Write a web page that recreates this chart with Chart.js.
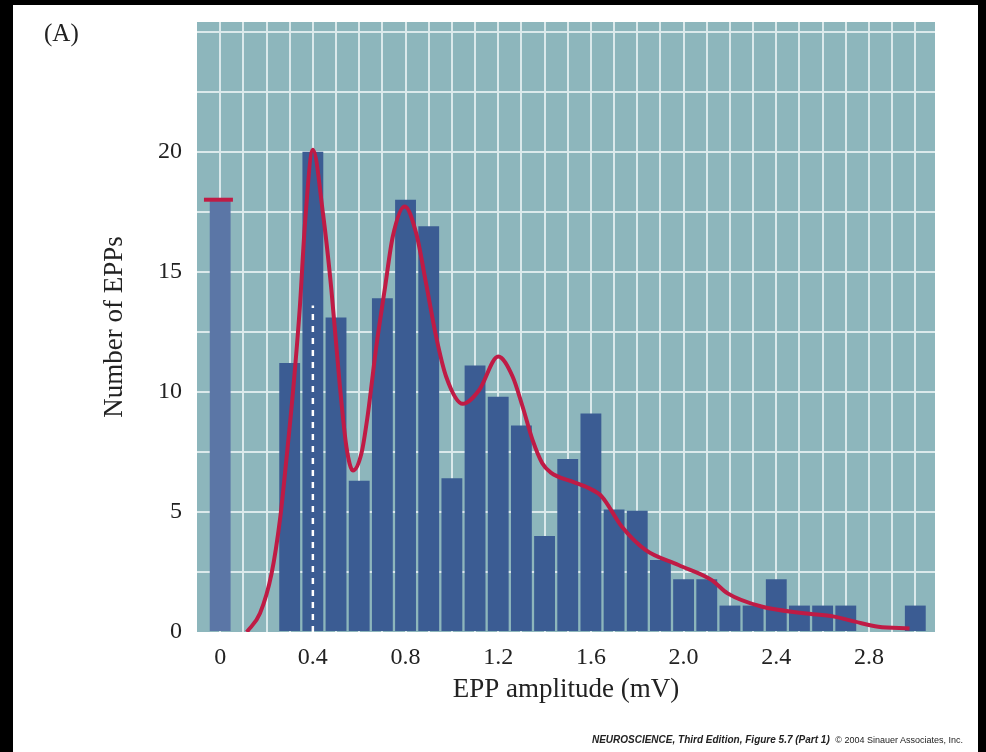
<!DOCTYPE html>
<html>
<head>
<meta charset="utf-8">
<script src="https://cdn.jsdelivr.net/npm/chart.js@4.4.1/dist/chart.umd.min.js"></script>
<style>
  html, body { margin: 0; padding: 0; background: #000; }
  #page {
    position: absolute; left: 13px; top: 5px;
    width: 965px; height: 747px; background: #fff;
  }
  #chart { position: absolute; left: 0; top: 0; }
  #panel {
    position: absolute; left: 31px; top: 14px;
    font: 25px "Liberation Serif", serif; color: #222;
  }
  #credit {
    position: absolute; right: 15px; top: 729px;
    font: 10px "Liberation Sans", Arial, sans-serif; color: #222;
    white-space: nowrap;
  }
  #credit b { font-style: italic; }
</style>
</head>
<body>
<div id="page">
  <canvas id="chart" width="965" height="747"></canvas>
  <div id="panel">(A)</div>
  <div id="credit"><b>NEUROSCIENCE, Third Edition, Figure 5.7 (Part 1)</b>&nbsp; <span style="font-size:9px">© 2004 Sinauer Associates, Inc.</span></div>
</div>
<script>
// histogram bins (mV) and counts
const binCenters = [0, 0.3, 0.4, 0.5, 0.6, 0.7, 0.8, 0.9, 1.0, 1.1, 1.2, 1.3, 1.4, 1.5,
                    1.6, 1.7, 1.8, 1.9, 2.0, 2.1, 2.2, 2.3, 2.4, 2.5, 2.6, 2.7, 3.0];
const counts = [18, 11.2, 20, 13.1, 6.3, 13.9, 18, 16.9, 6.4, 11.1, 9.8, 8.6, 4.0, 7.2,
                9.1, 5.1, 5.05, 3.0, 2.2, 2.2, 1.1, 1.1, 2.2, 1.1, 1.1, 1.1, 1.1];

// fitted curve
const curveX = [0.115, 0.172, 0.222, 0.258, 0.287, 0.315, 0.344, 0.366, 0.40, 0.444, 0.48,
                0.516, 0.545, 0.573, 0.61, 0.635, 0.674, 0.71, 0.745, 0.796, 0.846, 0.889,
                0.932, 0.975, 1.047, 1.118, 1.2, 1.262, 1.305, 1.348, 1.39, 1.427, 1.52,
                1.591, 1.647, 1.733, 1.835, 1.978, 2.12, 2.19, 2.336, 2.52, 2.65, 2.74,
                2.84, 2.975];
const curveY = [0, 0.78, 2.44, 4.67, 7.3, 10.08, 13.55, 17.0, 20.08, 17.4, 14.25,
                10.3, 7.7, 6.72, 7.45, 8.9, 11.9, 14.25, 16.47, 17.72, 16.6, 14.5,
                12.3, 10.64, 9.5, 10.08, 11.47, 10.64, 9.39, 8.0, 7.03, 6.64, 6.26,
                5.99, 5.64, 4.39, 3.42, 2.79, 2.17, 1.61, 1.06, 0.78, 0.64, 0.43,
                0.22, 0.15];

// quantal size marker (dashed) and failures level (cap on the zero bar)
const quantalX = [0.4, 0.4];
const quantalY = [0, 13.6];
const failX = [-0.07, 0.055];
const failY = [18, 18];

const xTickLabels = ['0', '0.4', '0.8', '1.2', '1.6', '2.0', '2.4', '2.8'];
const yTickLabels = ['0', '5', '10', '15', '20'];

const teal = '#8db6bc';
const gridColor = '#dbe9eb';
const barBlue = '#3b5c93';
const zeroBlue = '#5b76a6';
const red = '#bf1b45';

const pts = (xs, ys) => xs.map((x, i) => ({ x: x, y: ys[i] }));

const plotBg = {
    id: 'plotBg',
    beforeDraw(chart) {
        const a = chart.chartArea;
        chart.ctx.save();
        chart.ctx.fillStyle = teal;
        chart.ctx.fillRect(a.left, a.top, a.right - a.left, a.bottom - a.top);
        chart.ctx.restore();
    }
};

const serif = '"Liberation Serif", "Times New Roman", serif';

new Chart(document.getElementById('chart'), {
    type: 'bar',
    data: {
        datasets: [
            {
                type: 'line',
                data: pts(failX, failY),
                borderColor: red,
                borderWidth: 4,
                pointRadius: 0,
                order: 0
            },
            {
                type: 'line',
                data: pts(quantalX, quantalY),
                borderColor: '#ffffff',
                borderWidth: 2.5,
                borderDash: [6, 6],
                pointRadius: 0,
                order: 1
            },
            {
                type: 'line',
                data: pts(curveX, curveY),
                borderColor: red,
                borderWidth: 4,
                pointRadius: 0,
                cubicInterpolationMode: 'monotone',
                order: 2
            },
            {
                data: pts(binCenters, counts),
                backgroundColor: binCenters.map(x => x === 0 ? zeroBlue : barBlue),
                categoryPercentage: 1,
                barPercentage: 0.9,
                order: 3
            }
        ]
    },
    options: {
        responsive: false,
        animation: false,
        layout: { padding: { top: 17, right: 43, bottom: 0, left: 0 } },
        plugins: { legend: { display: false }, tooltip: { enabled: false } },
        scales: {
            x: {
                type: 'linear',
                offset: false,
                min: -0.1,
                max: 3.085,
                afterBuildTicks(scale) {
                    const t = [];
                    for (let i = 0; i <= 30; i++) t.push({ value: i / 10 });
                    scale.ticks = t;
                },
                afterFit(scale) {
                    scale.height = 120;
                    scale.paddingLeft = 0;
                    scale.paddingRight = 0;
                },
                grid: { color: gridColor, lineWidth: 2, drawTicks: false, offset: false },
                border: { display: false },
                ticks: {
                    padding: 11,
                    color: '#222',
                    font: { family: serif, size: 24 },
                    maxRotation: 0,
                    autoSkip: false,
                    callback(v) {
                        const k = Math.round(v * 10);
                        return k % 4 === 0 ? (xTickLabels[k / 4] || '') : '';
                    }
                },
                title: {
                    display: true,
                    text: 'EPP amplitude (mV)',
                    color: '#222',
                    font: { family: serif, size: 27 },
                    padding: { bottom: 46 }
                }
            },
            y: {
                min: 0,
                max: 25.4,
                afterBuildTicks(scale) {
                    const t = [];
                    for (let i = 0; i <= 10; i++) t.push({ value: i * 2.5 });
                    scale.ticks = t;
                },
                afterFit(scale) {
                    scale.width = 184;
                    scale.paddingTop = 0;
                    scale.paddingBottom = 0;
                },
                grid: {
                    color: c => c.tick && c.tick.value === 0 ? 'rgba(0,0,0,0)' : gridColor,
                    lineWidth: 2,
                    drawTicks: false
                },
                border: { display: false },
                ticks: {
                    padding: 15,
                    color: '#222',
                    font: { family: serif, size: 24 },
                    autoSkip: false,
                    callback(v) {
                        return v % 5 === 0 ? (yTickLabels[v / 5] || '') : '';
                    }
                },
                title: {
                    display: true,
                    text: 'Number of EPPs',
                    color: '#222',
                    font: { family: serif, size: 27 },
                    padding: { top: 86 }
                }
            }
        }
    },
    plugins: [plotBg]
});
</script>
</body>
</html>
